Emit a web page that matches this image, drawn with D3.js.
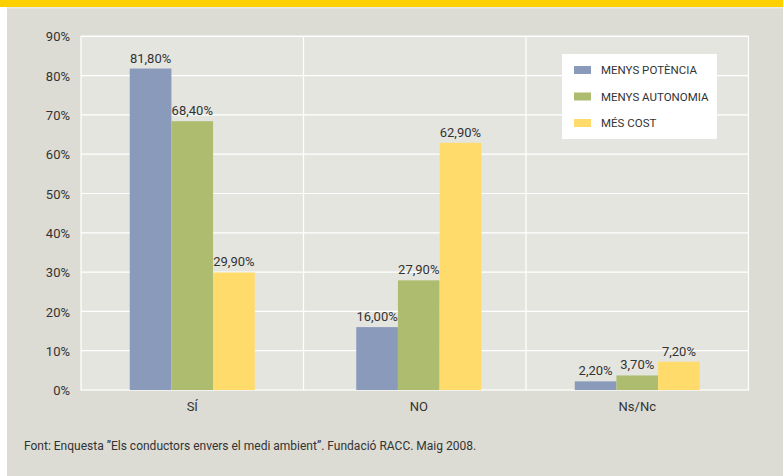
<!DOCTYPE html>
<html><head><meta charset="utf-8">
<script src="https://cdn.jsdelivr.net/npm/d3@7"></script>
<style>body{margin:0;background:#fff}svg{display:block}text{font-family:Roboto,"Liberation Sans",sans-serif;fill:#333}</style>
</head><body>
<script>
const categories = ["SÍ", "NO", "Ns/Nc"];
const seriesNames = ["MENYS POTÈNCIA", "MENYS AUTONOMIA", "MÉS COST"];
const potencia = [81.8, 16.0, 2.2];
const autonomia = [68.4, 27.9, 3.7];
const cost = [29.9, 62.9, 7.2];
const yTicks = [0, 10, 20, 30, 40, 50, 60, 70, 80, 90];
const colors = ["#8a9aba", "#adbc6e", "#fedb6a"];
const source = "Font: Enquesta \u201dEls conductors envers el medi ambient\u201d. Fundació RACC. Maig 2008.";

const W = 783, H = 476;
const svg = d3.select("body").append("svg").attr("width", W).attr("height", H);
svg.append("rect").attr("width", W).attr("height", H).attr("fill", "#fff");
svg.append("rect").attr("x", 7).attr("y", 0).attr("width", W - 7).attr("height", H).attr("fill", "#dcdcd4");
svg.append("rect").attr("x", 0).attr("y", 0).attr("width", W).attr("height", 7).attr("fill", "#ffd000");
svg.append("rect").attr("x", 7).attr("y", 7).attr("width", W - 7).attr("height", 1.5).attr("fill", "#ececE6");

const m = {l: 81, r: 748.5, t: 36.3, b: 390};
const x0 = d3.scaleBand().domain(categories).range([m.l, m.r]).paddingInner(0).paddingOuter(0);
const y = d3.scaleLinear().domain([0, 90]).range([m.b, m.t]);
const groupW = 125;
const x1 = d3.scaleBand().domain(d3.range(3)).range([0, groupW]);

svg.append("rect").attr("x", m.l).attr("y", m.t).attr("width", m.r - m.l).attr("height", m.b - m.t).attr("fill", "#e5e5e0");

svg.append("g").selectAll("line").data(yTicks.slice(1)).join("line")
  .attr("x1", m.l).attr("x2", m.r).attr("y1", d => y(d)).attr("y2", d => y(d))
  .attr("stroke", "#fff").attr("stroke-width", 1.2);
svg.append("g").selectAll("line").data(categories.slice(1)).join("line")
  .attr("x1", d => x0(d)).attr("x2", d => x0(d)).attr("y1", m.t).attr("y2", m.b)
  .attr("stroke", "#fff").attr("stroke-width", 1.2);
svg.append("rect").attr("x", m.l).attr("y", m.t).attr("width", m.r - m.l).attr("height", m.b - m.t)
  .attr("fill", "none").attr("stroke", "#fff").attr("stroke-width", 1.2);

const data = categories.map((c, i) => ({c, v: [potencia[i], autonomia[i], cost[i]]}));
const fmt = v => d3.format(".2f")(v).replace(".", ",") + "%";
const shift = [0, 4, 0];

const g = svg.append("g").selectAll("g").data(data).join("g")
  .attr("transform", (d, i) => `translate(${x0(d.c) + (x0.bandwidth() - groupW) / 2 + shift[i]},0)`);
g.selectAll("rect").data(d => d.v).join("rect")
  .attr("x", (v, i) => x1(i)).attr("width", x1.bandwidth())
  .attr("y", v => y(v)).attr("height", v => m.b - y(v))
  .attr("fill", (v, i) => colors[i]);
g.selectAll("text").data(d => d.v).join("text")
  .attr("x", (v, i) => x1(i) + x1.bandwidth() / 2).attr("y", v => y(v) - 6)
  .attr("text-anchor", "middle").attr("font-size", 13).text(fmt);

const yAxis = d3.axisLeft(y).tickValues(yTicks).tickSize(0).tickPadding(11).tickFormat(d => d + "%");
const ya = svg.append("g").attr("transform", `translate(${m.l},0)`).call(yAxis);
ya.select(".domain").remove();
ya.attr("font-family", null);
ya.selectAll("text").attr("font-size", 13).attr("fill", "#333").attr("dy", "0.36em");

const xAxis = d3.axisBottom(x0).tickSize(0).tickPadding(12);
const xa = svg.append("g").attr("transform", `translate(0,${m.b})`).call(xAxis);
xa.select(".domain").remove();
xa.attr("font-family", null);
xa.selectAll("text").attr("font-size", 13).attr("fill", "#333");
xa.selectAll(".tick").attr("transform", (d, i) => `translate(${x0(d) + x0.bandwidth() / 2 + shift[i]},0)`);

const lg = svg.append("g").attr("transform", "translate(562,54)");
lg.append("rect").attr("width", 155).attr("height", 85).attr("fill", "#fff");
const li = lg.selectAll("g").data(seriesNames).join("g").attr("transform", (d, i) => `translate(12,${16 + i * 26.5})`);
li.append("rect").attr("x", 0).attr("y", -4).attr("width", 17).attr("height", 8).attr("fill", (d, i) => colors[i]);
li.append("text").attr("x", 27).attr("y", 0).attr("dy", "0.36em").attr("font-size", 11.5).text(d => d);

svg.append("text").attr("x", 24).attr("y", 450).attr("font-size", 12).text(source);
</script>
</body></html>
